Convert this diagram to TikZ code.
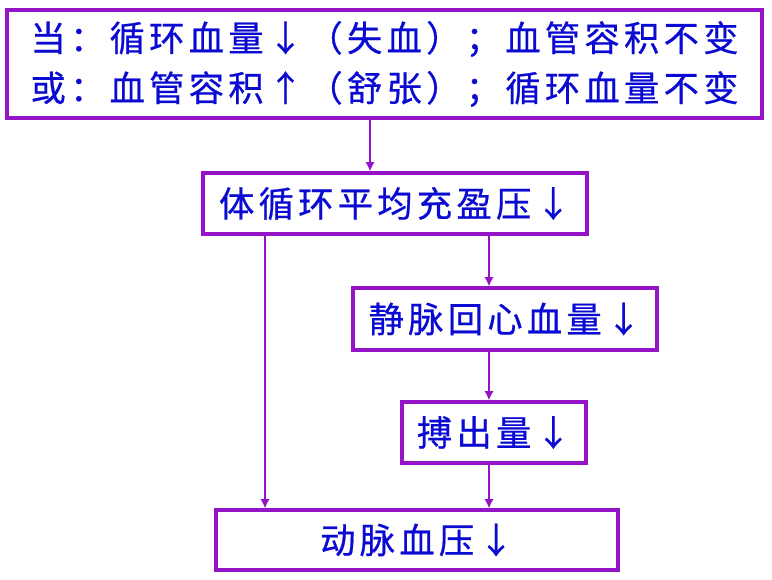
\documentclass[tikz,border=0pt]{standalone}
\usepackage{fontspec}
\usetikzlibrary{arrows.meta,calc}
\newfontfamily\cjk[LetterSpace=12,FakeBold=0.6]{Noto Sans CJK SC}
\definecolor{boxpurple}{RGB}{150,20,200}
\definecolor{txtblue}{RGB}{10,10,210}
\begin{document}
\begin{tikzpicture}[x=0.75pt,y=-0.75pt,
  box/.style={draw=boxpurple,line width=2.3pt,rectangle,inner sep=0pt,
    font=\cjk\fontsize{26.5pt}{37.5pt}\selectfont,text=txtblue,align=center},
  arr/.style={draw=boxpurple,line width=1.8pt,-{Latex[length=7pt,width=7pt]}}]
\useasboundingbox (0,0) rectangle (772,580);
\node[box,minimum width=755*0.75pt,minimum height=108*0.75pt,align=left] (top) at (384.5,64)
  {当：循环血量↓（失血）；血管容积不变\\或：血管容积↑（舒张）；循环血量不变};
\node[box,minimum width=384*0.75pt,minimum height=61*0.75pt] (b2) at (395,203.5) {体循环平均充盈压↓};
\node[box,minimum width=304*0.75pt,minimum height=62*0.75pt] (b3) at (505,319) {静脉回心血量↓};
\node[box,minimum width=184*0.75pt,minimum height=61*0.75pt] (b4) at (494,432.5) {搏出量↓};
\node[box,minimum width=402*0.75pt,minimum height=60*0.75pt] (b5) at (417,540) {动脉血压↓};
\coordinate (c1) at (370,0);
\coordinate (c2) at (489,0);
\coordinate (c3) at (265,0);
\draw[arr] (top.south -| c1) -- (b2.north -| c1);
\draw[arr] (b2.south -| c2) -- (b3.north -| c2);
\draw[arr] (b3.south -| c2) -- (b4.north -| c2);
\draw[arr] (b4.south -| c2) -- (b5.north -| c2);
\draw[arr] (b2.south -| c3) -- (b5.north -| c3);
\end{tikzpicture}
\end{document}
